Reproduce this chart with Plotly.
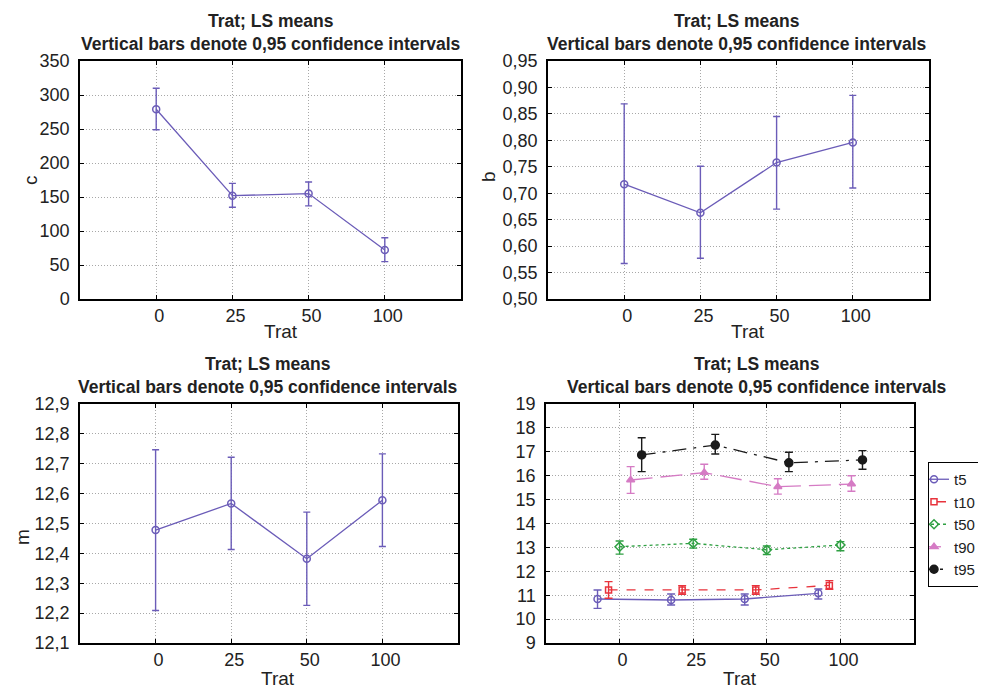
import plotly.graph_objects as go

# ---------------- data ----------------
trat = ["0", "25", "50", "100"]

c_mean = [279, 152, 155, 72]
c_lo = [249, 135, 137, 55]
c_hi = [310, 170, 172, 90]

b_mean = [0.717, 0.663, 0.758, 0.796]
b_lo = [0.567, 0.577, 0.670, 0.710]
b_hi = [0.869, 0.751, 0.845, 0.885]

m_mean = [12.478, 12.567, 12.382, 12.578]
m_lo = [12.209, 12.413, 12.226, 12.423]
m_hi = [12.747, 12.722, 12.538, 12.733]

series_names = ["t5", "t10", "t50", "t90", "t95"]
t5_mean = [10.84, 10.80, 10.84, 11.08]
t5_lo = [10.45, 10.59, 10.59, 10.84]
t5_hi = [11.22, 11.05, 11.05, 11.26]
t10_mean = [11.22, 11.22, 11.22, 11.41]
t10_lo = [10.87, 11.04, 11.04, 11.25]
t10_hi = [11.57, 11.40, 11.40, 11.61]
t50_mean = [13.03, 13.17, 12.90, 13.10]
t50_lo = [12.72, 12.97, 12.70, 12.86]
t50_hi = [13.27, 13.34, 13.06, 13.24]
t90_mean = [15.82, 16.13, 15.54, 15.65]
t90_lo = [15.26, 15.85, 15.23, 15.35]
t90_hi = [16.38, 16.48, 15.87, 16.00]
t95_mean = [16.87, 17.28, 16.54, 16.66]
t95_lo = [16.17, 16.91, 16.17, 16.27]
t95_hi = [17.59, 17.73, 16.98, 17.05]

c_ticks = [0, 50, 100, 150, 200, 250, 300, 350]
b_ticks = [0.50, 0.55, 0.60, 0.65, 0.70, 0.75, 0.80, 0.85, 0.90, 0.95]
m_ticks = [12.1, 12.2, 12.3, 12.4, 12.5, 12.6, 12.7, 12.8, 12.9]
t_ticks = list(range(9, 20))

title_line1 = "Trat; LS means"
title_line2 = "Vertical bars denote 0,95 confidence intervals"

# ---------------- style ----------------
FONT = "Liberation Sans, Arial, sans-serif"
PURPLE = "#6B5CB8"
styles = {
    "t5": dict(color=PURPLE, dash="solid", symbol="circle-open", size=7),
    "t10": dict(color="#E8333C", dash="dash", symbol="square-open", size=6),
    "t50": dict(color="#2FA043", dash="dot", symbol="diamond-open", size=7),
    "t90": dict(color="#D57BC4", dash="22px,8px", symbol="triangle-up", size=7),
    "t95": dict(color="#1A1A1A", dash="14px,7px,3px,7px", symbol="circle", size=8),
}


def err(mean, lo, hi):
    return dict(type="data", symmetric=False,
                array=[h - m for m, h in zip(mean, hi)],
                arrayminus=[m - l for m, l in zip(mean, lo)])


fig = go.Figure()


def single(mean, lo, hi, xa, ya):
    e = err(mean, lo, hi)
    e.update(color=PURPLE, thickness=1.4, width=3.5)
    fig.add_trace(go.Scatter(
        x=trat, y=mean, xaxis=xa, yaxis=ya, mode="lines+markers",
        line=dict(color=PURPLE, width=1.3),
        marker=dict(symbol="circle-open", size=7, color=PURPLE, line=dict(width=1.5)),
        error_y=e, showlegend=False))


single(c_mean, c_lo, c_hi, "x", "y")
single(b_mean, b_lo, b_hi, "x2", "y2")
single(m_mean, m_lo, m_hi, "x3", "y3")

all_series = {
    "t5": (t5_mean, t5_lo, t5_hi),
    "t10": (t10_mean, t10_lo, t10_hi),
    "t50": (t50_mean, t50_lo, t50_hi),
    "t90": (t90_mean, t90_lo, t90_hi),
    "t95": (t95_mean, t95_lo, t95_hi),
}
for name in series_names:
    mean, lo, hi = all_series[name]
    st = styles[name]
    e = err(mean, lo, hi)
    e.update(color=st["color"], thickness=1.4, width=4)
    fig.add_trace(go.Scatter(
        x=trat, y=mean, xaxis="x4", yaxis="y4", mode="lines+markers", name=name,
        line=dict(color=st["color"], width=1.3, dash=st["dash"]),
        marker=dict(symbol=st["symbol"], size=st["size"], color=st["color"],
                    line=dict(width=1.5, color=st["color"])),
        error_y=e, offsetgroup=name))

# page is rendered with an 8px body margin: shift everything
OFF = 8
W, H = 986 - OFF, 691 - OFF


def px(x):
    return (x - OFF) / W


def py(y):
    return 1 - (y - OFF) / H


def xd(a, b):
    return [px(a), px(b)]


def yd(top, bot):
    return [py(bot), py(top)]


axis_common = dict(showline=True, linecolor="black", linewidth=1.5, mirror="ticks",
                   ticks="inside", ticklen=4, tickcolor="black",
                   showgrid=True, gridcolor="#a8a8a8", griddash="1px,2px", gridwidth=1,
                   zeroline=False, tickfont=dict(family=FONT, size=18, color="#222"),
                   automargin=False)

xcommon = dict(axis_common, type="category", categoryorder="array", categoryarray=trat,
               range=[-1, 4], ticklabelstandoff=0, ticklabelshift=3)

layout = dict(
    width=W, height=H, margin=dict(l=0, r=0, t=0, b=0, autoexpand=False),
    paper_bgcolor="white", plot_bgcolor="white",
    separators=", ", scattermode="group", scattergap=0.25,
    font=dict(family=FONT, size=18, color="#222"),
    xaxis=dict(xcommon, domain=xd(80, 461), anchor="y"),
    yaxis=dict(axis_common, domain=yd(61, 299), anchor="x", range=[0, 350],
               tickvals=c_ticks, ticklabelstandoff=5),
    xaxis2=dict(xcommon, domain=xd(548, 929), anchor="y2"),
    yaxis2=dict(axis_common, domain=yd(61, 299), anchor="x2", range=[0.5, 0.95],
                tickvals=b_ticks, tickformat=".2f", ticklabelstandoff=5),
    xaxis3=dict(xcommon, domain=xd(80, 458), anchor="y3"),
    yaxis3=dict(axis_common, domain=yd(404, 643), anchor="x3", range=[12.1, 12.9],
                tickvals=m_ticks, tickformat=".1f", ticklabelstandoff=5),
    xaxis4=dict(xcommon, domain=xd(546, 914), anchor="y4"),
    yaxis4=dict(axis_common, domain=yd(404, 643), anchor="x4", range=[9, 19],
                tickvals=t_ticks, ticklabelstandoff=5),
    legend=dict(x=px(928), y=py(462), xanchor="left", yanchor="top",
                bordercolor="black", borderwidth=1, bgcolor="white",
                font=dict(family=FONT, size=15, color="#222"),
                itemwidth=30, tracegroupgap=0, indentation=-15),
)
fig.update_layout(**layout)

ann = []
for cx, cy in [(270.5, 32), (737, 32), (268, 375), (757, 375)]:
    ann.append(dict(text="<b>" + title_line1 + "</b><br><b>" + title_line2 + "</b>",
                    x=px(cx), y=py(cy), xref="paper", yref="paper",
                    xanchor="center", yanchor="middle", showarrow=False,
                    font=dict(family=FONT, size=17.5, color="#222")))
for cx, cy in [(281, 331), (748, 331)]:
    ann.append(dict(text="Trat", x=px(cx), y=py(cy), xref="paper", yref="paper",
                    xanchor="center", yanchor="middle", showarrow=False,
                    font=dict(family=FONT, size=19, color="#222")))
for cx in [278, 740]:
    ann.append(dict(text="Trat", x=px(cx), y=0, xref="paper", yref="paper",
                    xanchor="center", yanchor="bottom", showarrow=False,
                    font=dict(family=FONT, size=19, color="#222")))
for t, cx, cy in [("c", 30, 180), ("b", 488, 177), ("m", 22, 537)]:
    ann.append(dict(text=t, x=px(cx), y=py(cy), xref="paper", yref="paper",
                    xanchor="center", yanchor="middle", showarrow=False, textangle=-90,
                    font=dict(family=FONT, size=19, color="#222")))
fig.update_layout(annotations=ann)

fig.write_html("out.html")
